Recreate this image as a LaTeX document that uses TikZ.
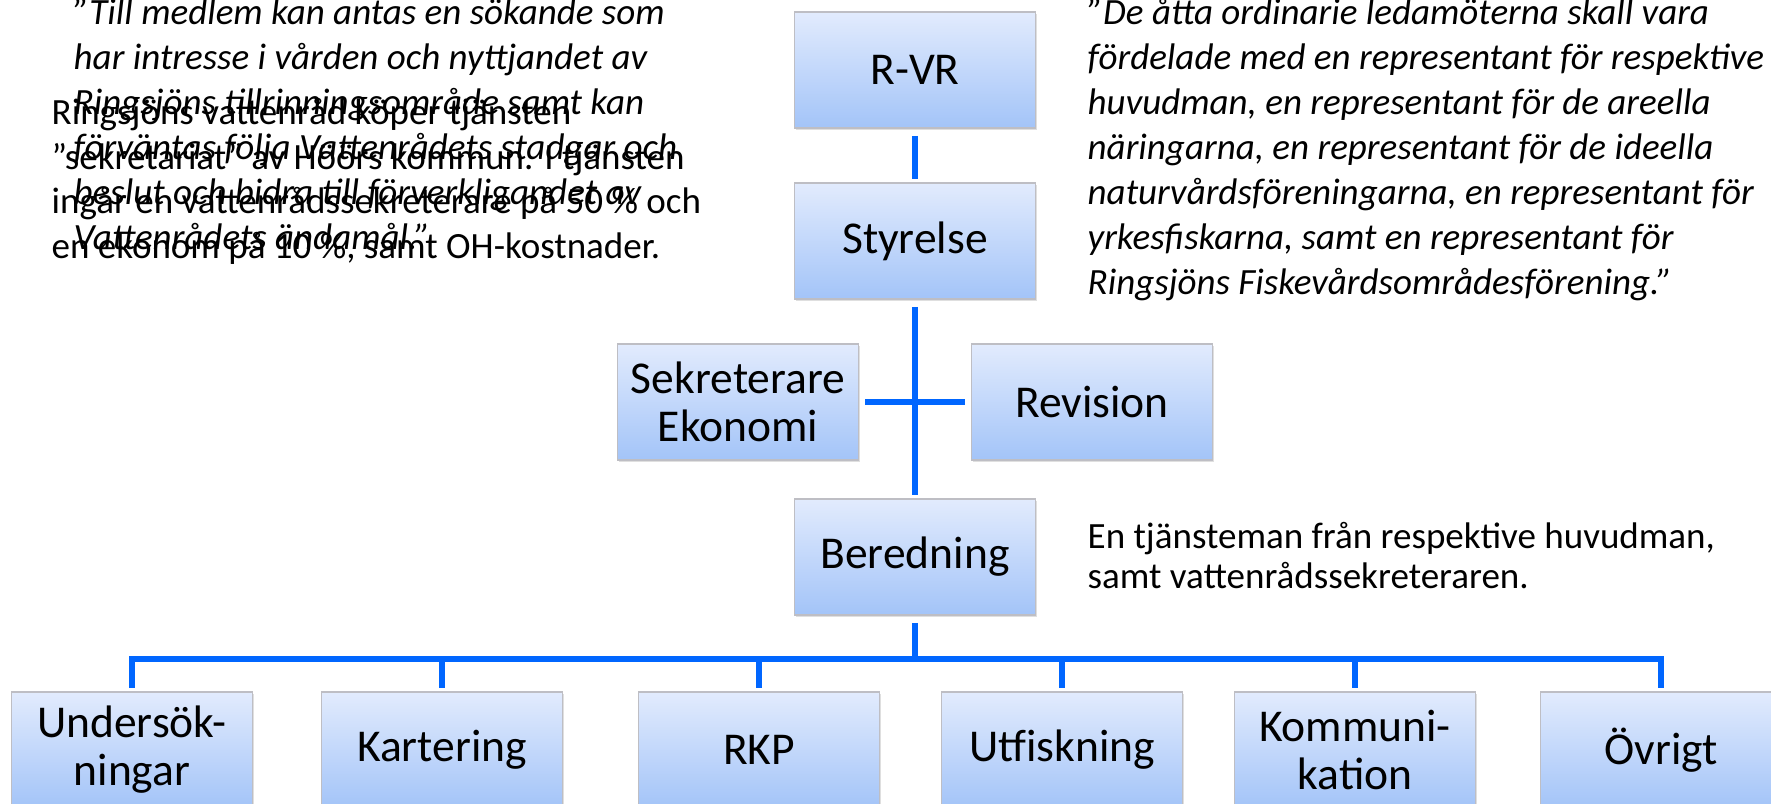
\documentclass[tikz,border=0pt]{standalone}
\usepackage{fontspec}
\setmainfont{Carlito}
\usetikzlibrary{shadows}

\definecolor{boxtop}{RGB}{226,235,253}
\definecolor{boxbot}{RGB}{163,196,248}
\definecolor{boxedge}{RGB}{190,190,196}
\definecolor{linjeblå}{RGB}{0,102,255}

\tikzset{
  orgbox/.style={draw=boxedge, line width=0.4pt, top color=boxtop, bottom color=boxbot,
    minimum width=2.41cm, minimum height=1.16cm, inner sep=0pt, align=center,
    font=\fontsize{12.95pt}{13.6pt}\selectfont,
    drop shadow={shadow xshift=0.4pt, shadow yshift=-0.5pt, opacity=0.25}},
  orglinje/.style={draw=linjeblå, line width=1.6pt},
  citat/.style={inner sep=0pt, anchor=base west, font=\fontsize{10.53pt}{12.8pt}\selectfont\itshape},
  brodtext/.style={inner sep=0pt, anchor=base west, font=\fontsize{10.53pt}{12.8pt}\selectfont}
}

\begin{document}
\begin{tikzpicture}[x=0.01cm,y=-0.01cm]

  \useasboundingbox (0,0) rectangle (1771,804);

  % rutor, uppifraan och ned
  \node[orgbox] (rvr)       at (915,70)  {R-VR};
  \node[orgbox] (styrelse)  at (915,241) {Styrelse};
  \node[orgbox] (sekr)      at (738,402) {Sekreterare\\Ekonomi};
  \node[orgbox] (revision)  at (1092,402) {Revision};
  \node[orgbox] (beredning) at (915,557) {Beredning};

  \def\By{750};
  \node[orgbox] (und)  at (132,\By)  {Undersök-\\ningar};
  \node[orgbox] (kart) at (442,\By)  {Kartering};
  \node[orgbox] (rkp)  at (759,\By)  {RKP};
  \node[orgbox] (utf)  at (1062,\By) {Utfiskning};
  \node[orgbox] (komm) at (1355,\By) {Kommuni-\\kation};
  \node[orgbox] (ovr)  at (1661,\By) {Övrigt};

  % linjer
  \draw[orglinje, shorten <=2pt, shorten >=1pt] (rvr.south) -- (styrelse.north);
  \draw[orglinje, shorten <=2pt, shorten >=1pt] (styrelse.south) -- (beredning.north);
  \draw[orglinje, shorten <=1.7pt, shorten >=1.7pt] (sekr.east) -- (revision.west);

  \coordinate (buss) at (915,659);
  \draw[orglinje, shorten <=2pt] (beredning.south) -- (buss);
  \foreach \n in {und,kart,rkp,utf,komm,ovr}
    \draw[orglinje, shorten >=0.9pt] (buss) -| (\n.north);

  % texter
  \foreach \rad [count=\i] in {{”Till medlem kan antas en sökande som},
      {har intresse i vården och nyttjandet av},
      {Ringsjöns tillrinningsområde samt kan},
      {förväntas följa Vattenrådets stadgar och},
      {beslut och bidra till förverkligandet av},
      {Vattenrådets ändamål.”}}
    \node[citat] (va\i) at (73,{25+45*(\i-1)}) {\rad};

  \foreach \rad [count=\i] in {{Ringsjöns vattenråd köper tjänsten},
      {”sekretariat” av Höörs kommun. I tjänsten},
      {ingår en vattenrådssekreterare på 50 \% och},
      {en ekonom på 10 \%, samt OH-kostnader.}}
    \node[brodtext] (ek\i) at (51,{125+44.5*(\i-1)}) {\rad};

  \foreach \rad [count=\i] in {{”De åtta ordinarie ledamöterna skall vara},
      {fördelade med en representant för respektive},
      {huvudman, en representant för de areella},
      {näringarna, en representant för de ideella},
      {naturvårdsföreningarna, en representant för},
      {yrkesfiskarna, samt en representant för},
      {Ringsjöns Fiskevårdsområdesförening.”}}
    \node[citat] (le\i) at (1087,{25+45*(\i-1)}) {\rad};

  \node[brodtext] (be1) at (1087,549) {En tjänsteman från respektive huvudman,};
  \node[brodtext] (be2) at (1087,589) {samt vattenrådssekreteraren.};

\end{tikzpicture}
\end{document}
